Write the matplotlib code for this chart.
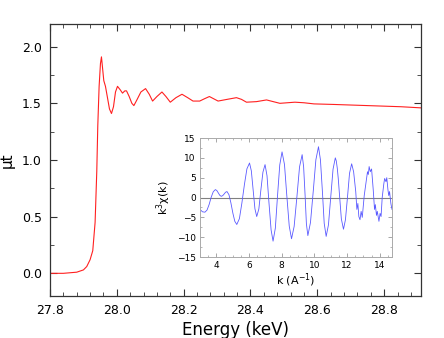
import matplotlib
matplotlib.use('Agg')
import matplotlib.pyplot as plt
from matplotlib.ticker import MultipleLocator

# ---- main spectrum (energy in keV, mu*t) ----
energy = [27.80, 27.84, 27.88, 27.90, 27.91, 27.92, 27.928, 27.935, 27.94, 27.943,
          27.947, 27.951, 27.954, 27.957, 27.961, 27.966, 27.972, 27.978, 27.984, 27.990,
          27.996, 28.002, 28.010, 28.017, 28.024, 28.029, 28.037, 28.045, 28.051, 28.060,
          28.072, 28.086, 28.097, 28.107, 28.120, 28.135, 28.147, 28.160, 28.177, 28.195,
          28.212, 28.228, 28.248, 28.262, 28.277, 28.290, 28.303, 28.330, 28.358, 28.373,
          28.388, 28.418, 28.448, 28.468, 28.488, 28.510, 28.533, 28.560, 28.590, 28.650,
          28.700, 28.750, 28.800, 28.850, 28.910]
mut = [0.0, 0.0, 0.01, 0.03, 0.06, 0.12, 0.20, 0.45, 0.90, 1.30,
       1.65, 1.85, 1.91, 1.82, 1.70, 1.65, 1.55, 1.45, 1.41, 1.47,
       1.60, 1.65, 1.62, 1.59, 1.61, 1.61, 1.56, 1.50, 1.48, 1.53,
       1.60, 1.63, 1.58, 1.52, 1.56, 1.60, 1.56, 1.51, 1.55, 1.58,
       1.55, 1.52, 1.52, 1.54, 1.56, 1.54, 1.52, 1.535, 1.55, 1.535,
       1.51, 1.515, 1.53, 1.515, 1.50, 1.505, 1.51, 1.505, 1.495, 1.49,
       1.485, 1.48, 1.475, 1.47, 1.46]

# ---- inset EXAFS k^3 chi(k) ----
k = [3.00, 3.15, 3.30, 3.43, 3.56, 3.68, 3.81, 3.94, 4.03, 4.12,
     4.21, 4.30, 4.39, 4.48, 4.56, 4.65, 4.77, 4.89, 5.01, 5.13,
     5.25, 5.41, 5.56, 5.72, 5.87, 6.03, 6.14, 6.25, 6.36, 6.47,
     6.60, 6.72, 6.85, 6.98, 7.10, 7.22, 7.35, 7.47, 7.61, 7.74,
     7.88, 8.02, 8.17, 8.31, 8.46, 8.60, 8.76, 8.93, 9.09, 9.25,
     9.34, 9.43, 9.51, 9.60, 9.76, 9.93, 10.09, 10.25, 10.37, 10.49,
     10.60, 10.72, 10.86, 11.00, 11.14, 11.28, 11.34, 11.40, 11.46, 11.53,
     11.65, 11.78, 11.90, 12.03, 12.15, 12.28, 12.40, 12.53, 12.60, 12.66,
     12.72, 12.79, 12.86, 12.93, 13.05, 13.15, 13.25, 13.30, 13.35, 13.42,
     13.50, 13.60, 13.68, 13.73, 13.80, 13.85, 13.95, 14.02, 14.08, 14.15,
     14.25, 14.30, 14.38, 14.43, 14.50, 14.55, 14.60, 14.68, 14.75]
k3chi = [-3.0, -3.6, -3.7, -3.16, -1.73, 0.03, 1.46, 2.0, 1.75, 1.15,
         0.55, 0.3, 0.48, 0.9, 1.32, 1.5, 0.71, -1.36, -3.94, -6.01,
         -6.8, -5.33, -1.45, 3.35, 7.23, 8.7, 6.73, 1.95, -2.83, -4.8,
         -2.89, 1.75, 6.39, 8.3, 5.48, -1.35, -8.18, -11.0, -7.71, 0.25,
         8.21, 11.5, 8.3, 0.55, -7.2, -10.4, -7.3, 0.2, 7.7, 10.8,
         7.8, 0.6, -6.6, -9.6, -6.3, 1.6, 9.5, 12.8, 9.5, 1.5,
         -6.5, -9.8, -6.9, 0.1, 7.1, 10.0, 9.2, 7.4, 4.8, 1.0,
         -5.4, -8.0, -5.6, 0.3, 6.1, 8.5, 6.5, 1.5, -3.0, -1.5,
         -4.8, -5.6, -3.5, -5.0, 0.5, 3.5, 6.5, 5.8, 7.8, 6.5,
         7.2, 2.0, -3.0, -1.8, -4.5, -3.5, -6.0, -4.0, -4.8, 0.0,
         3.5, 4.8, 4.0, 5.0, 2.0, 0.5, 1.5, -1.5, -3.0]

plt.rcParams['font.family'] = ['DejaVu Sans']

fig = plt.figure(figsize=(4.44, 3.38), dpi=100)
ax = fig.add_axes([0.1126, 0.1243, 0.8354, 0.8047])

ax.plot(energy, mut, color='#ff2020', lw=0.8)
ax.set_xlim(27.8, 28.91)
ax.set_ylim(-0.2, 2.2)
ax.xaxis.set_major_locator(MultipleLocator(0.2))
ax.xaxis.set_minor_locator(MultipleLocator(0.04))
ax.yaxis.set_major_locator(MultipleLocator(0.5))
ax.yaxis.set_minor_locator(MultipleLocator(0.25))
ax.tick_params(which='both', direction='in', top=True, right=True, color='#333333')
ax.tick_params(which='major', length=5, width=0.8, labelsize=9, pad=6)
ax.tick_params(which='minor', length=3, width=0.6)
ax.set_xticks([27.8, 28.0, 28.2, 28.4, 28.6, 28.8])
ax.set_xticklabels(['27.8', '28.0', '28.2', '28.4', '28.6', '28.8'])
for s in ax.spines.values():
    s.set_color('#333333')
    s.set_linewidth(0.9)
ax.set_xlabel('Energy (keV)', fontsize=12, labelpad=3)
ax.set_ylabel('\u03bct', fontsize=11)
ax.yaxis.set_label_coords(-0.094, 0.5)

# inset
axi = fig.add_axes([0.4505, 0.2396, 0.4324, 0.3521])
axi.axhline(0, color='#808080', lw=0.8)
axi.plot(k, k3chi, color='#5a5aff', lw=0.6)
axi.set_xlim(3, 14.75)
axi.set_ylim(-15, 15)
axi.xaxis.set_major_locator(MultipleLocator(2))
axi.xaxis.set_minor_locator(MultipleLocator(0.5))
axi.yaxis.set_major_locator(MultipleLocator(5))
axi.yaxis.set_minor_locator(MultipleLocator(2.5))
axi.tick_params(which='both', direction='in', top=True, right=True, color='#999999')
axi.tick_params(which='major', length=3, width=0.6, labelsize=6.5, pad=3)
axi.tick_params(which='minor', length=1.5, width=0.5)
for s in axi.spines.values():
    s.set_color('#aaaaaa')
    s.set_linewidth(0.7)
axi.set_xlabel('k (A$^{-1}$)', fontsize=8, labelpad=1)
axi.set_ylabel('k$^3$\u03c7(k)', fontsize=8, labelpad=3)

fig.savefig('out.png', dpi=100)
